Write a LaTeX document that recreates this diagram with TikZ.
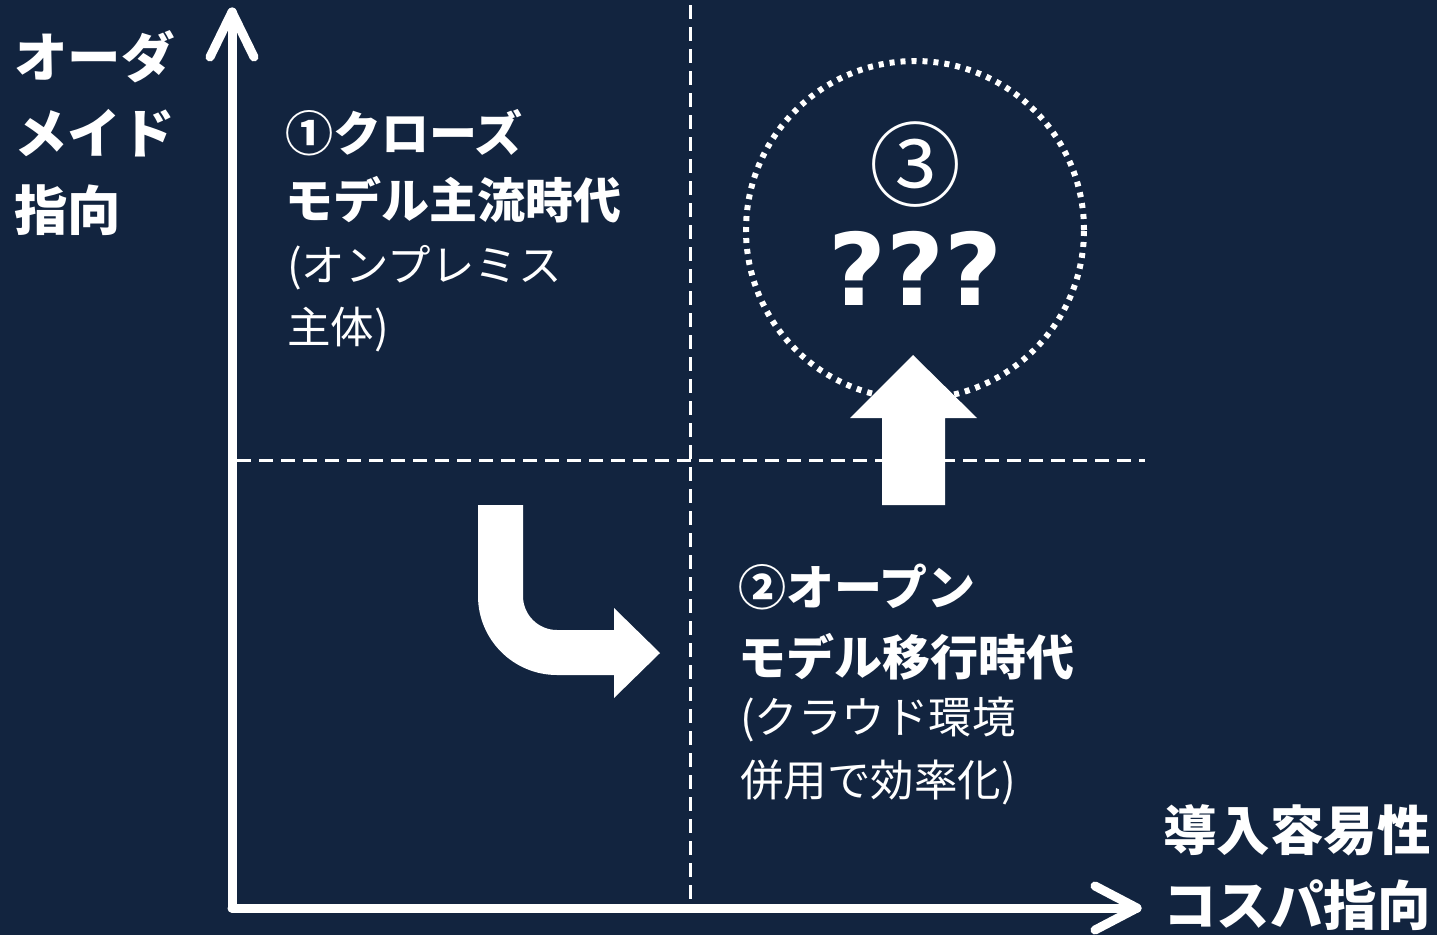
\documentclass[tikz,border=0pt]{standalone}
\usepackage{fontspec}
\newfontfamily\jp{Noto Sans CJK JP}
\newfontfamily\dv{DejaVu Sans}
\usetikzlibrary{calc}
\definecolor{navy}{HTML}{12243F}
\tikzset{
  lbl/.style={text=white, inner sep=0pt, anchor=west, font=\jp\bfseries\fontsize{53.5}{60}\selectfont},
  head/.style={text=white, inner sep=0pt, anchor=west, font=\jp\bfseries\fontsize{48}{54}\selectfont},
  sub/.style={text=white, inner sep=0pt, anchor=west, font=\jp\fontsize{43.5}{50}\selectfont},
  axis/.style={white, line width=9pt, line cap=round, line join=round},
  grid/.style={white, line width=3pt, dash pattern=on 14pt off 8pt},
  blockarrow/.style={fill=white, draw=none}
}
\begin{document}
\begin{tikzpicture}[x=1pt,y=-1pt]
\useasboundingbox (0,0) rectangle (1437,935);
\fill[navy] (0,0) rectangle (1437,935);

% named coordinates
\coordinate (O) at (232,908);
\coordinate (ytip) at (232,12);
\coordinate (xtip) at (1137,908);
\coordinate (vtop) at (690,5);
\coordinate (vbot) at (690,900);
\coordinate (hl) at (237,460);
\coordinate (hr) at (1145,460);

% dashed quadrant lines
\draw[grid] (vtop) -- (vbot);
\draw[grid] (hl) -- (hr);

% dotted circle
\node[draw=white, line width=6pt, dash pattern=on 5pt off 6pt, circle, minimum size=338pt, inner sep=0pt] (circ) at (915,230) {};

% axes
\draw[axis] (O) -- (ytip);
\draw[axis] ($(ytip)+(-22,45)$) -- (ytip) -- ($(ytip)+(22,45)$);
\draw[axis] (O) -- (xtip);
\draw[axis] ($(xtip)+(-42,-22)$) -- (xtip) -- ($(xtip)+(-42,22)$);

% up block arrow
\fill[blockarrow] (882,505) -- (882,418) -- (850,418) -- (913,355) -- (977,418) -- (945,418) -- (945,505) -- cycle;

% bent block arrow
\fill[blockarrow] (478,505) -- (523,505) -- (523,596)
  arc[start angle=180, end angle=90, radius=34] -- (614,630) -- (614,608) -- (660,653) -- (614,698) -- (614,675) -- (557,675)
  arc[start angle=90, end angle=180, radius=79] -- cycle;

% axis labels
\node[lbl] (y1) at (14,57) {オーダ};
\node[lbl] (y2) at (14,133) {メイド};
\node[lbl] (y3) at (14,210) {指向};
\node[lbl] (x1) at (1163,830) {導入容易性};
\node[lbl] (x2) at (1163,905) {コスパ指向};

% quadrant 1
\node[head] (q1a) at (285,133) {①クローズ};
\node[head] (q1b) at (285,200) {モデル主流時代};
\node[sub] (q1c) at (287,268) {(オンプレミス};
\node[sub] (q1d) at (287,330) {主体)};

% quadrant 2
\node[head] (q2a) at (738,587) {②オープン};
\node[head] (q2b) at (738,657) {モデル移行時代};
\node[sub] (q2c) at (740,720) {(クラウド環境};
\node[sub] (q2d) at (740,782) {併用で効率化)};

% quadrant 3
\node[text=white, inner sep=0pt, font=\jp\fontsize{92}{100}\selectfont] (q3a) at (915,165) {③};
\node[text=white, inner sep=0pt, font=\dv\bfseries\fontsize{100}{110}\selectfont] (q3b) at (915,268) {???};
\end{tikzpicture}
\end{document}
